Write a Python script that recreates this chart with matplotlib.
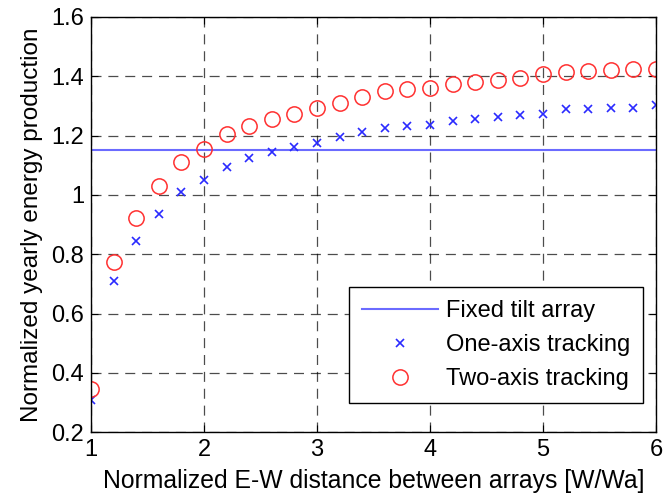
import numpy as np
import matplotlib
matplotlib.use('Agg')
from matplotlib import pylab as plt

# normalized E-W distance between arrays
distance = [1.0, 1.2, 1.4, 1.6, 1.8, 2.0, 2.2, 2.4, 2.6, 2.8, 3.0, 3.2, 3.4,
            3.6, 3.8, 4.0, 4.2, 4.4, 4.6, 4.8, 5.0, 5.2, 5.4, 5.6, 5.8, 6.0]

fixed_tilt = 1.15

one_axis = [0.31, 0.711, 0.843, 0.937, 1.011, 1.050, 1.093, 1.124, 1.143, 1.160,
            1.174, 1.194, 1.211, 1.225, 1.231, 1.237, 1.249, 1.257, 1.262, 1.268,
            1.273, 1.288, 1.288, 1.294, 1.294, 1.302]

two_axis = [0.345, 0.773, 0.923, 1.031, 1.112, 1.155, 1.206, 1.232, 1.257, 1.273,
            1.294, 1.311, 1.330, 1.350, 1.358, 1.362, 1.375, 1.381, 1.389, 1.394,
            1.407, 1.413, 1.418, 1.420, 1.424, 1.425]

plt.rcParams['font.family'] = ['Liberation Sans', 'DejaVu Sans']

fig = plt.figure(figsize=(6.64, 4.99), dpi=100)
ax = fig.add_axes([0.137, 0.134, 0.851, 0.832])

ax.plot([distance[0], distance[-1]], [fixed_tilt, fixed_tilt], color='#6b6bff',
        lw=1.5, label='Fixed tilt array')
ax.plot(distance, one_axis, 'x', color='#2a2aff', ms=6, mew=1.2,
        label='One-axis tracking')
ax.plot(distance, two_axis, 'o', mfc='none', mec='#ff3030', ms=11, mew=1.1,
        label='Two-axis tracking')

ax.set_xlim(1, 6)
ax.set_ylim(0.2, 1.6)
ax.set_xticks([1, 2, 3, 4, 5, 6])
ax.set_yticks([0.2, 0.4, 0.6, 0.8, 1.0, 1.2, 1.4, 1.6])
ax.set_yticklabels(['0.2', '0.4', '0.6', '0.8', '1', '1.2', '1.4', '1.6'])
ax.tick_params(direction='in', top=True, right=True, labelsize=17, length=5, pad=5)
ax.grid(True, color='black', linestyle=(0, (8, 5.5)), lw=0.9, alpha=0.7)
for s in ax.spines.values():
    s.set_linewidth(1.0)

ax.set_xlabel('Normalized E-W distance between arrays [W/Wa]', fontsize=17.8,
              labelpad=6)
ax.set_ylabel('Normalized yearly energy production', fontsize=17.5, labelpad=6)

leg = ax.legend(loc='lower right', bbox_to_anchor=(0.977, 0.07), borderaxespad=0,
                fontsize=17, fancybox=False, framealpha=1, edgecolor='black',
                handlelength=3.2, handletextpad=0.35, labelspacing=0.5,
                borderpad=0.55)
leg.get_frame().set_linewidth(1.0)

fig.savefig('out.png', dpi=100)
